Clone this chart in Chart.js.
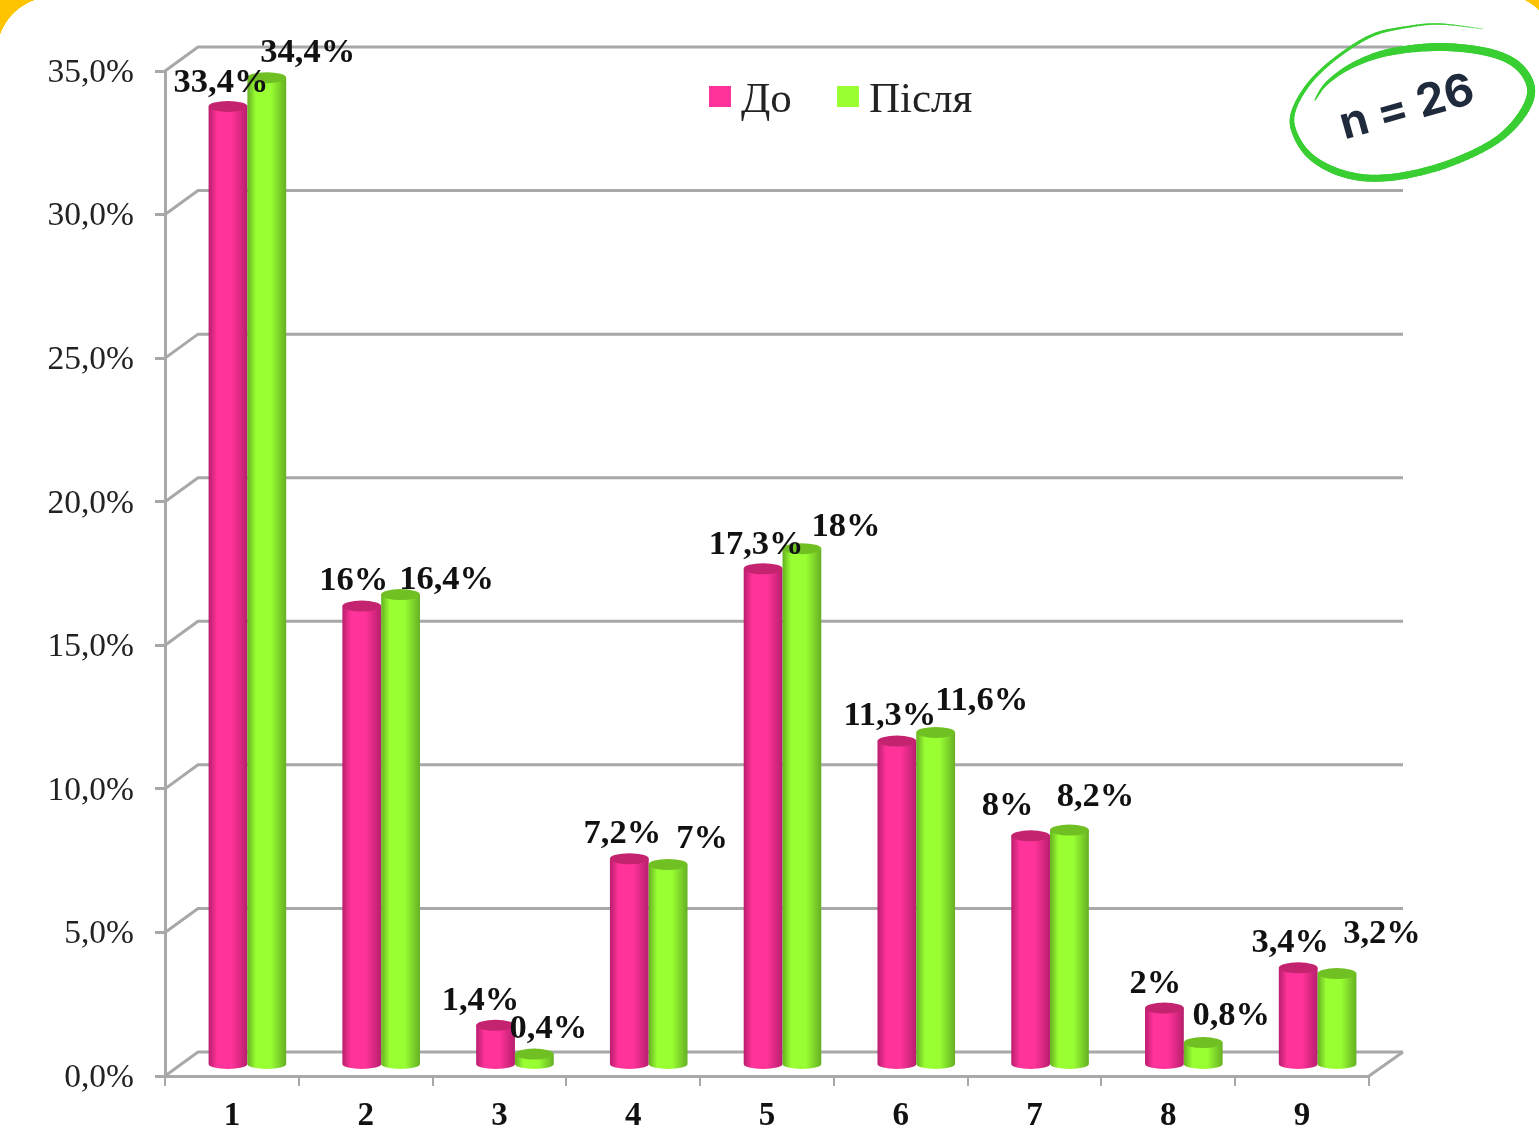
<!DOCTYPE html>
<html lang="uk">
<head>
  <meta charset="UTF-8" />
  <title>До / Після</title>
  <script src="https://cdn.jsdelivr.net/npm/chart.js"></script>
  <style>
    html, body { margin: 0; padding: 0; background: #fff; }
    /* yellow slide corners peeking in behind the white page */
    #wrap {
      width: 1539px;
      height: 1134px;
      overflow: hidden;
      background:
        radial-gradient(circle 57px at 53.6px 53.6px, #fff 56.5px, #ffc400 57px) left top / 60px 60px no-repeat,
        radial-gradient(circle 57px at -19.7px 50.8px, #fff 56.5px, #ffc400 57px) right top / 20px 20px no-repeat,
        #fff;
    }
    canvas { display: block; }
  </style>
</head>
<body>
  <div id="wrap"><canvas id="chartCanvas" width="1539" height="1134"></canvas></div>

  <script>
    const categories = ["1", "2", "3", "4", "5", "6", "7", "8", "9"];
    const seriesBefore = [33.4, 16, 1.4, 7.2, 17.3, 11.3, 8, 2, 3.4];
    const seriesAfter = [34.4, 16.4, 0.4, 7, 18, 11.6, 8.2, 0.8, 3.2];
    const seriesNames = ["До", "Після"];
    const badgeText = "n = 26";

    // value labels were placed by hand in the original, so each one gets a nudge from its bar top
    const nudgeBefore = [[-7,-25],[-8,-26],[-15,-26],[-7,-26],[-7,-25],[-7,-26],[-23,-31],[-9,-25],[-8,-26]];
    const nudgeAfter = [[41,-26],[46,-16],[14,-26],[34,-27],[44,-23],[46,-33],[26,-34],[28,-28],[45,-41]];

    const SERIF = '"Liberation Serif", serif';
    const GREY = "#a8a8a8";
    const WALL = { x: 33, y: -24 };    // back wall offset from the front axes
    const BAR_SHIFT = { x: 15.5, y: -10.5 };  // bars stand in the middle of the floor
    const colors = [
      { main: "#ff3399", dark: "#b81e6e", top: "#c4246f" },
      { main: "#99ff33", dark: "#66b022", top: "#70c024" }
    ];

    const pct = v => String(v).replace(".", ",") + "%";

    function drawWalls(chart) {
      const { ctx, chartArea: a, scales: { y } } = chart;
      ctx.save();
      ctx.strokeStyle = GREY;
      ctx.lineWidth = 3;
      y.ticks.forEach(t => {
        const py = y.getPixelForValue(t.value);
        ctx.beginPath();
        ctx.moveTo(a.left, py);
        ctx.lineTo(a.left + WALL.x, py + WALL.y);
        ctx.lineTo(a.right + WALL.x + 1, py + WALL.y);
        ctx.stroke();
      });
      const floor = y.getPixelForValue(0);
      ctx.beginPath();
      ctx.moveTo(a.right, floor);
      ctx.lineTo(a.right + WALL.x + 1, floor + WALL.y);
      ctx.stroke();
      ctx.restore();
    }

    function drawCylinder(ctx, bar, c) {
      const w = bar.width;
      const left = bar.x - w / 2 + BAR_SHIFT.x;
      const cx = left + w / 2;
      const top = bar.y + BAR_SHIFT.y;
      const base = bar.base + BAR_SHIFT.y;
      const ryTop = 5.5, ryBase = 5;

      const g = ctx.createLinearGradient(left, 0, left + w, 0);
      g.addColorStop(0, c.dark);
      g.addColorStop(0.22, c.main);
      g.addColorStop(0.6, c.main);
      g.addColorStop(1, c.dark);

      ctx.fillStyle = g;
      ctx.beginPath();
      ctx.moveTo(left, top);
      ctx.lineTo(left, base);
      ctx.ellipse(cx, base, w / 2, ryBase, 0, Math.PI, 0, true);
      ctx.lineTo(left + w, top);
      ctx.closePath();
      ctx.fill();

      ctx.fillStyle = c.top;
      ctx.beginPath();
      ctx.ellipse(cx, top, w / 2, ryTop, 0, 0, Math.PI * 2);
      ctx.fill();
    }

    function drawValueLabels(chart) {
      const { ctx } = chart;
      const nudges = [nudgeBefore, nudgeAfter];
      ctx.save();
      ctx.font = "bold 34.5px " + SERIF;
      ctx.fillStyle = "#111";
      ctx.textAlign = "center";
      ctx.textBaseline = "middle";
      chart.data.datasets.forEach((ds, i) => {
        chart.getDatasetMeta(i).data.forEach((bar, j) => {
          const [dx, dy] = nudges[i][j];
          ctx.fillText(pct(ds.data[j]), bar.x + BAR_SHIFT.x + dx, bar.y + BAR_SHIFT.y + dy + 1.5);
        });
      });
      ctx.restore();
    }

    function drawLegend(chart) {
      const { ctx } = chart;
      const items = [{ box: 709, text: 741 }, { box: 837, text: 869 }];
      ctx.save();
      ctx.font = "43px " + SERIF;
      ctx.textBaseline = "alphabetic";
      ctx.textAlign = "left";
      chart.data.datasets.forEach((ds, i) => {
        ctx.fillStyle = colors[i].main;
        ctx.fillRect(items[i].box, 86, 22, 21);
        ctx.fillStyle = "#222";
        ctx.fillText(ds.label, items[i].text, 112);
      });
      ctx.restore();
    }

    // hand drawn ring, width changes along the stroke
    function drawBadge(chart) {
      const { ctx } = chart;
      const pts = [
        [1315,100,1],[1327,83,3],[1353,65,5],[1390,52,7],[1440,47,8],[1487,52,8],[1517,65,8],
        [1531,88,8],[1523,113,8],[1497,140,7],[1453,162,7],[1407,175,7],[1367,178,7],[1333,170,7],
        [1307,153,6],[1293,128,5],[1295,107,4],[1312,80,3.5],[1340,55,3],[1373,35,3],
        [1407,27,2],[1440,24,1.5],[1483,29,0.4]
      ];
      ctx.save();
      ctx.strokeStyle = "#39cf33";
      ctx.lineCap = "round";
      for (let i = 0; i < pts.length - 1; i++) {
        const p0 = pts[Math.max(i - 1, 0)], p1 = pts[i], p2 = pts[i + 1], p3 = pts[Math.min(i + 2, pts.length - 1)];
        let prev = p1;
        for (let s = 1; s <= 10; s++) {
          const t = s / 10, t2 = t * t, t3 = t2 * t;
          const q = [0, 1].map(k => 0.5 * (2 * p1[k] + (p2[k] - p0[k]) * t +
            (2 * p0[k] - 5 * p1[k] + 4 * p2[k] - p3[k]) * t2 + (3 * p1[k] - p0[k] - 3 * p2[k] + p3[k]) * t3));
          ctx.lineWidth = p1[2] + (p2[2] - p1[2]) * t;
          ctx.beginPath();
          ctx.moveTo(prev[0], prev[1]);
          ctx.lineTo(q[0], q[1]);
          ctx.stroke();
          prev = q;
        }
      }
      ctx.translate(1407, 108);
      ctx.rotate(-15.7 * Math.PI / 180);
      ctx.font = "700 45px Inter, sans-serif";
      ctx.fillStyle = "#1f2a3c";
      ctx.textAlign = "center";
      ctx.textBaseline = "middle";
      ctx.fillText(badgeText, 0, 0);
      ctx.restore();
    }

    const cylinderPlugin = {
      id: "cylinders",
      beforeDatasetsDraw: drawWalls,
      beforeDatasetDraw: () => false,
      afterDatasetsDraw(chart) {
        chart.data.datasets.forEach((ds, i) => {
          chart.getDatasetMeta(i).data.forEach(bar => drawCylinder(chart.ctx, bar, colors[i]));
        });
        drawValueLabels(chart);
        drawLegend(chart);
        drawBadge(chart);
      }
    };

    new Chart(document.getElementById("chartCanvas").getContext("2d"), {
      type: "bar",
      data: {
        labels: categories,
        datasets: [
          { label: seriesNames[0], data: seriesBefore, backgroundColor: colors[0].main },
          { label: seriesNames[1], data: seriesAfter, backgroundColor: colors[1].main }
        ]
      },
      plugins: [cylinderPlugin],
      options: {
        responsive: false,
        animation: false,
        layout: { padding: { top: 71, right: 170 } },
        categoryPercentage: 0.58,
        barPercentage: 1,
        plugins: { legend: { display: false }, tooltip: { enabled: false } },
        scales: {
          x: {
            afterFit(s) { s.height = 58; },
            border: { color: GREY, width: 3 },
            grid: { drawOnChartArea: false, color: GREY, lineWidth: 2, tickLength: 10 },
            ticks: { color: "#111", padding: 11, font: { family: SERIF, size: 33, weight: "bold" } }
          },
          y: {
            min: 0,
            max: 35,
            afterFit(s) { s.width = 165; },
            border: { color: GREY, width: 3 },
            grid: { drawOnChartArea: false, color: GREY, lineWidth: 3, tickLength: 10 },
            ticks: {
              stepSize: 5,
              color: "#222",
              padding: 21,
              labelOffset: 2,
              font: { family: SERIF, size: 33.5 },
              callback: v => v.toFixed(1).replace(".", ",") + "%"
            }
          }
        }
      }
    });
  </script>
</body>
</html>
